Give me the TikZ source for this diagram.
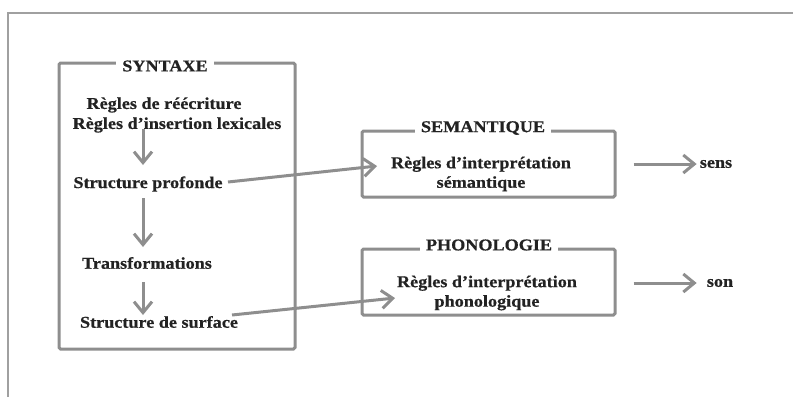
\documentclass[tikz,border=0pt]{standalone}
\usepackage{fontspec}
\setmainfont[FakeStretch=1.1,BoldFeatures={FakeBold=0.6}]{Liberation Serif}
\usetikzlibrary{arrows.meta}
\definecolor{lg}{HTML}{8E8E8E}
\definecolor{fg}{HTML}{A0A0A0}
\definecolor{tx}{HTML}{222222}
\begin{document}
\begin{tikzpicture}[x=1pt,y=-1pt,
  box/.style={draw=lg,line width=3pt,rounded corners=1.5pt,inner sep=0pt},
  title/.style={fill=white,inner xsep=6pt,inner ysep=1pt,text=tx,font=\bfseries\fontsize{16.5}{18}\selectfont},
  txt/.style={inner sep=1pt,align=center,text=tx,font=\bfseries\fontsize{16.5}{19.5}\selectfont},
  arr/.style={draw=lg,line width=3pt,-{Straight Barb[length=11pt,width=18pt,line width=3pt]}}
]
\useasboundingbox (0,0) rectangle (793,397);
% outer frame
\draw[draw=fg,line width=2.5pt] (8,397) -- (8,13) -- (793,13);
% boxes
\node[box,minimum width=236pt,minimum height=286pt] (syn) at (177,206) {};
\node[title] (synt) at (165,66) {SYNTAXE};
\node[box,minimum width=253pt,minimum height=66pt] (sem) at (488.5,164) {};
\node[title] (semtit) at (483,128) {SEMANTIQUE};
\node[box,minimum width=253pt,minimum height=66pt] (pho) at (488.5,282) {};
\node[title] (photit) at (489,245) {PHONOLOGIE};
% syntax texts
\node[txt] (r1) at (164,105) {Règles de réécriture};
\node[txt] (r2) at (177,125) {Règles d’insertion lexicales};
\node[txt] (sp) at (148,184) {Structure profonde};
\node[txt] (tr) at (147,263) {Transformations};
\node[txt] (ss) at (159,322) {Structure de surface};
% component texts
\node[txt] (semt) at (481,174) {Règles d'interprétation\\sémantique};
\node[txt] (phot) at (487,293) {Règles d'interprétation\\phonologique};
\node[txt] (sens) at (716,164) {sens};
\node[txt] (son) at (720,283) {son};
% connector end points
\coordinate (ax) at (143,0);
\coordinate (semin) at (377,166);
\coordinate (phoin) at (395,298);
\coordinate (spout) at (228,182);
\coordinate (ssout) at (232,315);
% vertical arrows
\draw[arr] (143,129) -- (143,165);
\draw[arr] (143,198) -- (143,247);
\draw[arr] (143,282) -- (143,315);
% cross arrows
\draw[arr] (spout) -- (semin);
\draw[arr] (ssout) -- (phoin);
% output arrows
\draw[arr] ([xshift=17pt]sem.east) -- ([xshift=-2pt]sens.west);
\draw[arr] ([xshift=17pt]sem.east |- son) -- ([xshift=-9pt]son.west);
\end{tikzpicture}
\end{document}
